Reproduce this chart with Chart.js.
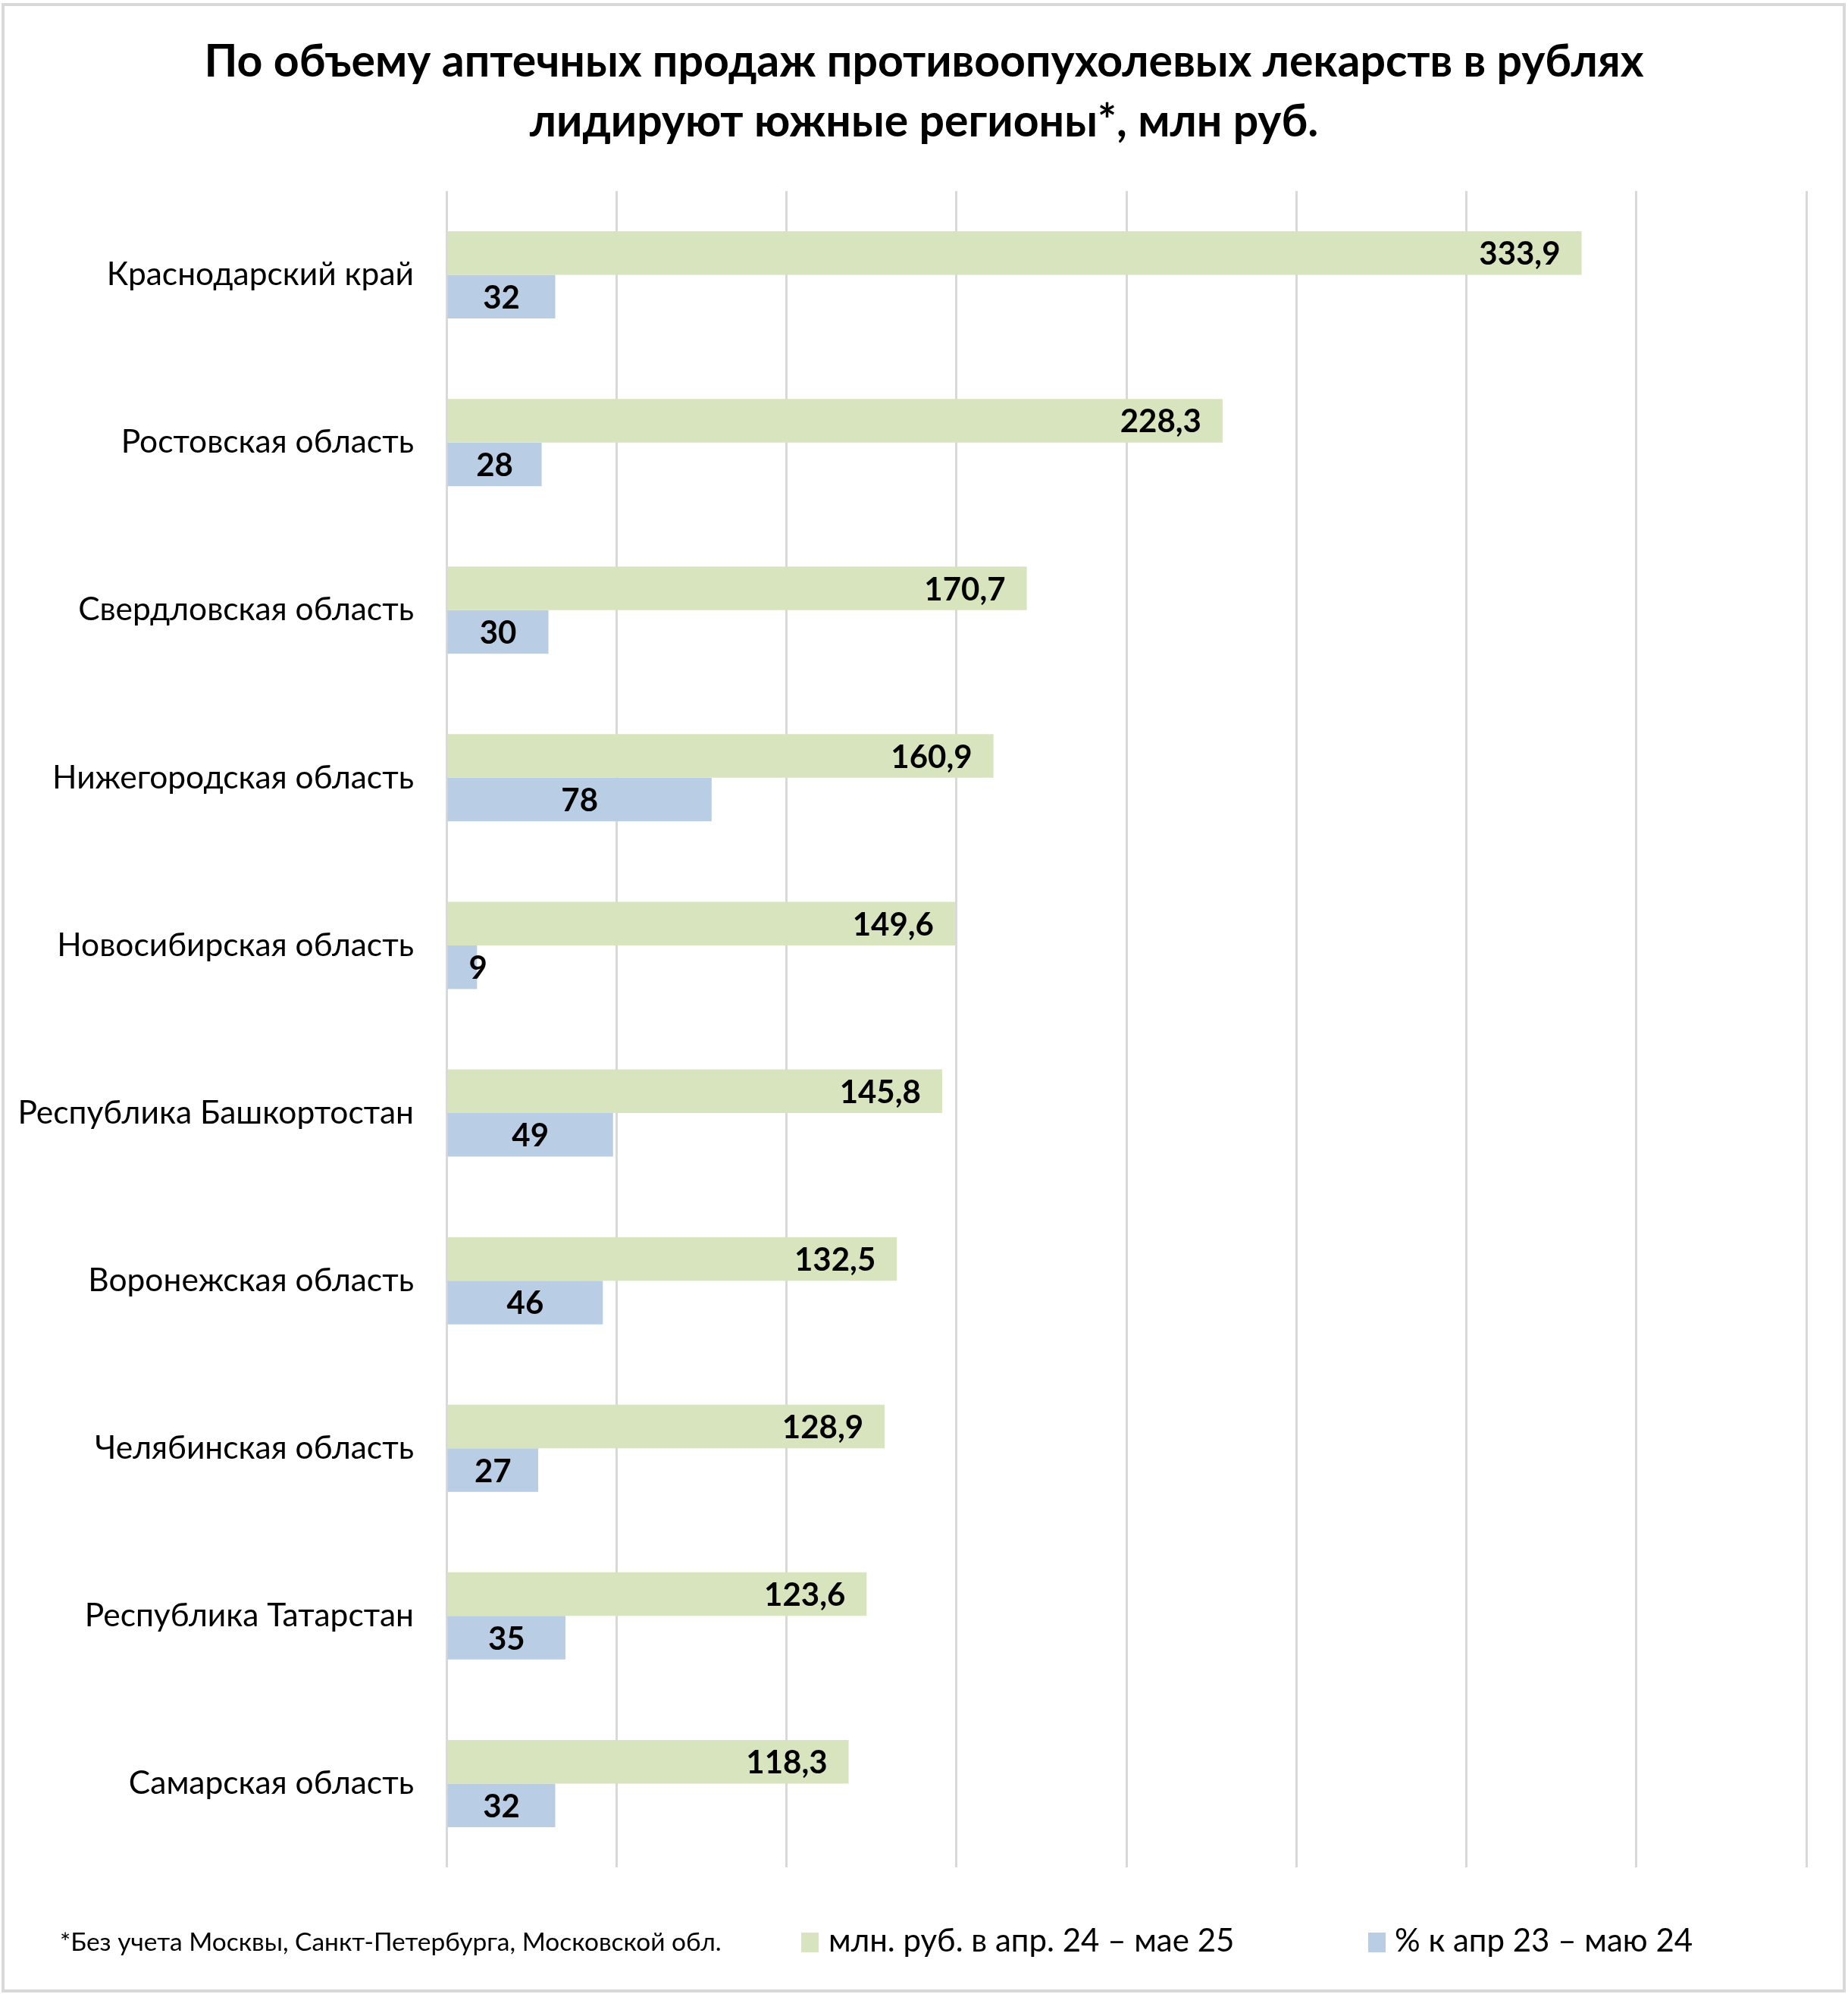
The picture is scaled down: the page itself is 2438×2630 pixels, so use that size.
<!DOCTYPE html>
<html><head><meta charset="utf-8">
<script src="https://cdn.jsdelivr.net/npm/chart.js@4.4.1/dist/chart.umd.min.js"></script>
<style>html,body{margin:0;padding:0;background:#fff;}#wrap{width:2438px;height:2630px;position:relative;}canvas{display:block;}</style>
</head><body><div id="wrap"><canvas id="c" width="2438" height="2630" style="width:2438px;height:2630px"></canvas></div>
<script>
const categories = ['Краснодарский край','Ростовская область','Свердловская область','Нижегородская область','Новосибирская область','Республика Башкортостан','Воронежская область','Челябинская область','Республика Татарстан','Самарская область'];
const salesMln = [333.9, 228.3, 170.7, 160.9, 149.6, 145.8, 132.5, 128.9, 123.6, 118.3];
const growthPct = [32, 28, 30, 78, 9, 49, 46, 27, 35, 32];
const seriesNames = ['млн. руб. в апр. 24 – мае 25', '% к апр 23 – маю 24'];
const titleLines = ['По объему аптечных продаж противоопухолевых лекарств в рублях', 'лидируют южные регионы*, млн руб.'];
const footnote = '*Без учета Москвы, Санкт-Петербурга, Московской обл.';
const xMin = 0, xMax = 400, xStep = 50;

const FONT = 'Lato';
const colors = ['#d8e4bd', '#b9cde5'];
const fmt = v => (Number.isInteger(v) ? String(v) : v.toFixed(1).replace('.', ','));

const framePlugin = {
  id: 'frame',
  beforeDraw(chart) {
    const ctx = chart.ctx;
    ctx.save();
    ctx.fillStyle = '#fff';
    ctx.fillRect(0, 0, chart.width, chart.height);
    ctx.strokeStyle = '#d9d9d9';
    ctx.lineWidth = 4;
    ctx.strokeRect(4, 6, chart.width - 9, chart.height - 10);
    ctx.restore();
  }
};

const titlePlugin = {
  id: 'centeredTitle',
  afterDraw(chart) {
    const ctx = chart.ctx;
    ctx.save();
    ctx.fillStyle = '#000';
    ctx.font = 'bold 59px ' + FONT;
    ctx.textAlign = 'center';
    ctx.textBaseline = 'middle';
    titleLines.forEach((line, i) => ctx.fillText(line, chart.width / 2, 81.5 + i * 79));
    ctx.restore();
  }
};

const labelPlugin = {
  id: 'barLabels',
  afterDatasetsDraw(chart) {
    const ctx = chart.ctx;
    ctx.save();
    ctx.font = 'bold 42px ' + FONT;
    ctx.fillStyle = '#000';
    ctx.textBaseline = 'middle';
    chart.data.datasets.forEach((ds, di) => {
      const meta = chart.getDatasetMeta(di);
      meta.data.forEach((bar, i) => {
        const txt = fmt(ds.data[i]);
        const w = ctx.measureText(txt).width;
        if (di === 0) {
          ctx.textAlign = 'right';
          ctx.fillText(txt, bar.x - 28, bar.y + 2);
        } else {
          ctx.textAlign = 'center';
          const cx = Math.max((bar.base + bar.x) / 2, bar.base + w / 2 + 28);
          ctx.fillText(txt, cx, bar.y + 2);
        }
      });
    });
    ctx.restore();
  }
};

const footerPlugin = {
  id: 'footer',
  afterDraw(chart) {
    const ctx = chart.ctx;
    ctx.save();
    ctx.fillStyle = '#000';
    ctx.textBaseline = 'middle';
    ctx.textAlign = 'left';
    ctx.font = '33.5px ' + FONT;
    ctx.fillText(footnote, 79, 2562);
    const items = [{box: 1057, text: 1093}, {box: 1805, text: 1840}];
    ctx.font = '42px ' + FONT;
    chart.data.datasets.forEach((ds, di) => {
      ctx.fillStyle = ds.backgroundColor;
      ctx.fillRect(items[di].box, 2549, 23, 26);
      ctx.fillStyle = '#000';
      ctx.fillText(ds.label, items[di].text, 2560);
    });
    ctx.restore();
  }
};

new Chart(document.getElementById('c'), {
  type: 'bar',
  data: {
    labels: categories,
    datasets: [
      {label: seriesNames[0], data: salesMln, backgroundColor: colors[0], categoryPercentage: 0.52, barPercentage: 1.0},
      {label: seriesNames[1], data: growthPct, backgroundColor: colors[1], categoryPercentage: 0.52, barPercentage: 1.0}
    ]
  },
  options: {
    indexAxis: 'y',
    responsive: false,
    devicePixelRatio: 1,
    animation: false,
    layout: {padding: {left: 0, right: 55, top: 252, bottom: 167}},
    plugins: {
      legend: {display: false},
      tooltip: {enabled: false},
      title: {display: false}
    },
    scales: {
      x: {
        min: xMin, max: xMax,
        ticks: {display: false, stepSize: xStep},
        grid: {color: '#d9d9d9', lineWidth: 3, drawTicks: false},
        border: {display: false}
      },
      y: {
        afterFit(scale) { scale.width = 589; },
        ticks: {color: '#000', padding: 35, font: {family: FONT, size: 42.5}},
        grid: {display: false},
        border: {display: false}
      }
    }
  },
  plugins: [framePlugin, titlePlugin, labelPlugin, footerPlugin]
});
</script>
</body></html>
